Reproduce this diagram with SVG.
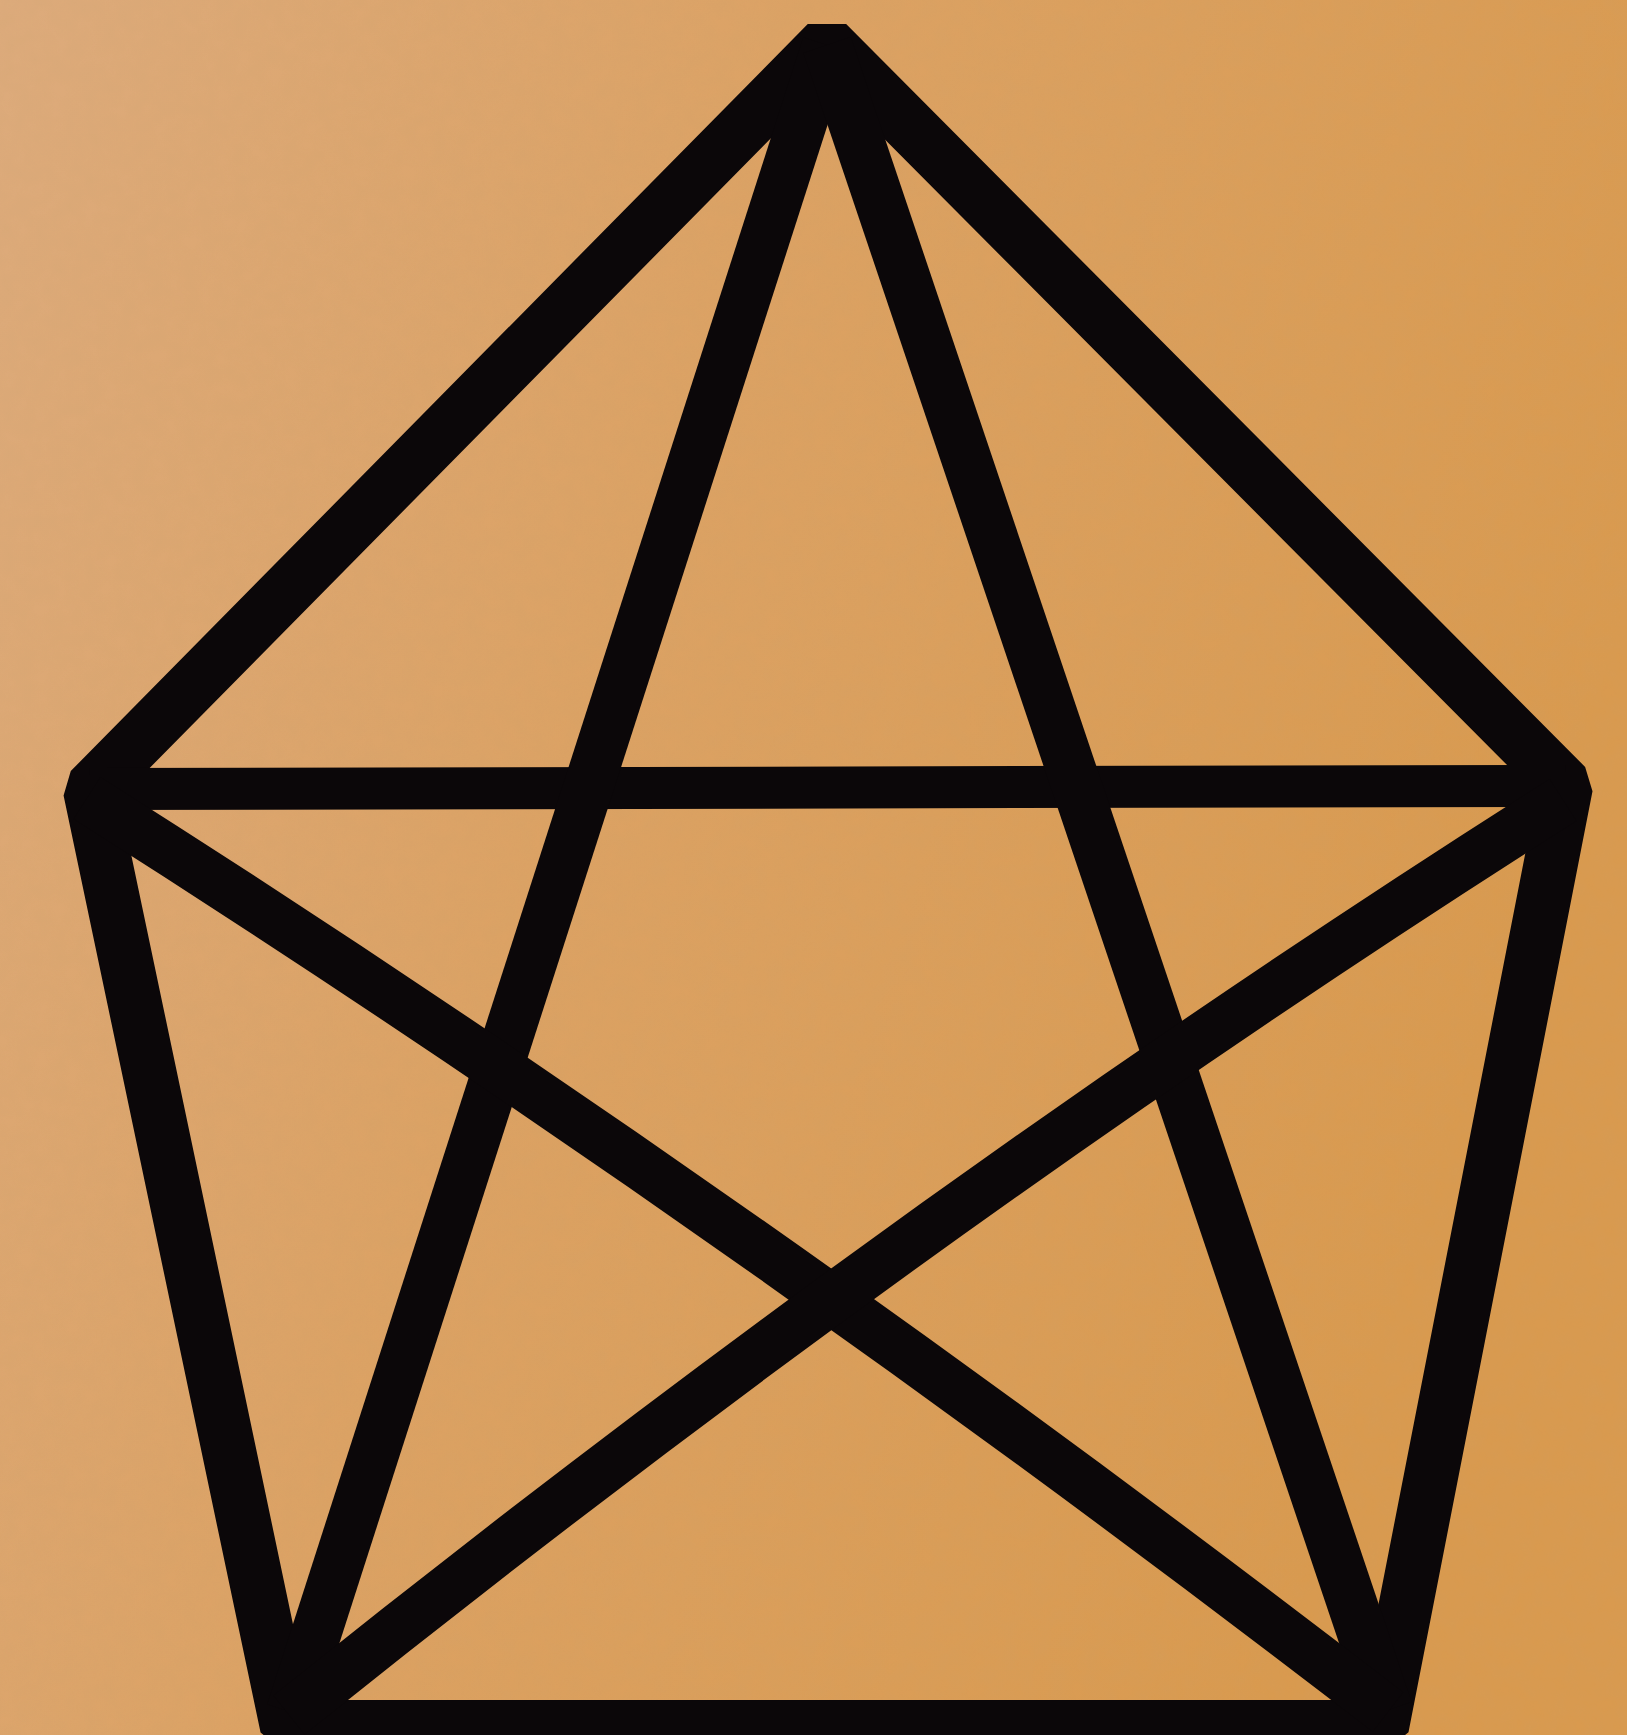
<svg xmlns="http://www.w3.org/2000/svg" width="1627" height="1735" viewBox="0 0 1627 1735">
  <defs>
    <linearGradient id="bg" x1="0" y1="0" x2="1" y2="0.35">
      <stop offset="0" stop-color="#ddab7c"/>
      <stop offset="0.45" stop-color="#dca264"/>
      <stop offset="1" stop-color="#d99a4f"/>
    </linearGradient>
    <filter id="grain" x="0" y="0" width="100%" height="100%">
      <feTurbulence type="fractalNoise" baseFrequency="0.06" numOctaves="2" seed="3" result="n"/>
      <feColorMatrix in="n" type="matrix" values="0 0 0 0 0.55  0 0 0 0 0.35  0 0 0 0 0.15  0 0 0 0.35 -0.08"/>
    </filter>
  </defs>
  <style>
    .ink { stroke: #0b0709; fill: none; }
    .outline { stroke-width: 54; stroke-linejoin: bevel; }
    .diag { stroke-width: 50; stroke-linecap: butt; }
    .cross { stroke-width: 50; stroke-linecap: butt; }
    .bar { stroke-width: 42; stroke-linecap: butt; }
  </style>
  <rect x="0" y="0" width="1627" height="1735" fill="url(#bg)"/>
  <rect x="0" y="0" width="1627" height="1735" filter="url(#grain)" opacity="0.5"/>
  <g id="connectors">
    <polygon id="pentagon-outline" class="ink outline" points="827,43 1566,786 1382,1727 287,1727 90,790"/>
    <line id="edge-L-R" class="ink bar" x1="90" y1="789" x2="1566" y2="786"/>
    <line id="edge-T-BL" class="ink diag" x1="827" y1="45" x2="291" y2="1712"/>
    <line id="edge-T-BR" class="ink diag" x1="827" y1="45" x2="1388" y2="1710"/>
    <path id="edge-L-BR" class="ink cross" d="M87,798 Q736.5,1210 1388,1712"/>
    <path id="edge-R-BL" class="ink cross" d="M1563,800 Q926.5,1203.5 289,1715"/>
  </g>
</svg>
